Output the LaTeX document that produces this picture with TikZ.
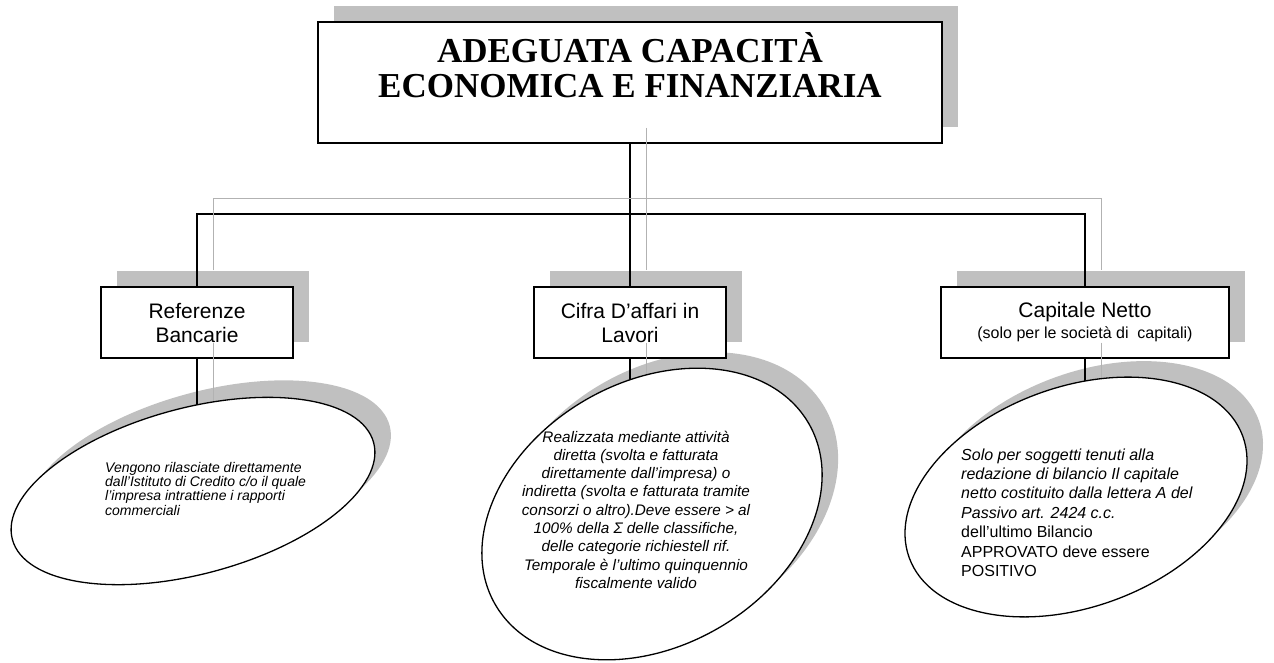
\documentclass[tikz,border=0pt]{standalone}
\usepackage{fontspec}
\usetikzlibrary{shapes.geometric}
\newfontfamily\arialf{Liberation Sans}
\newfontfamily\tnrf{Liberation Serif}
\definecolor{shadowgray}{RGB}{192,192,192}
\definecolor{glinec}{RGB}{178,178,178}
\pgfdeclarelayer{shadowl}
\pgfdeclarelayer{conn}
\pgfdeclarelayer{gline}
\pgfdeclarelayer{fg}
\pgfsetlayers{shadowl,conn,main,gline,fg}
\begin{document}
\begin{tikzpicture}[x=1pt,y=-1pt,
  box/.style={draw=black, fill=white, line width=1.2pt, inner sep=0pt, align=center,
    font=\arialf\fontsize{21}{24}\selectfont},
  boxshadow/.style={fill=shadowgray, inner sep=0pt},
  ell/.style={ellipse, draw=black, fill=white, line width=1.3pt, inner sep=0pt},
  ellshadow/.style={ellipse, fill=shadowgray, inner sep=0pt},
  connline/.style={line width=1.3pt, black},
  gl/.style={line width=1pt, glinec},
  etext/.style={inner sep=0pt},
  titletext/.style={anchor=base, inner sep=0pt, font=\tnrf\bfseries\fontsize{35}{37}\selectfont}
]
\useasboundingbox (0,0) rectangle (1274,662);

% boxes
\node[box, line width=1.6pt, minimum width=624pt, minimum height=121pt] (top) at (630,82.5) {};
\node[box, minimum width=192pt, minimum height=71pt] (lb) at (197,322.5) {Referenze\\Bancarie};
\node[box, minimum width=192pt, minimum height=71pt] (mb) at (630,322.5) {Cifra D’affari in\\Lavori};
\node[box, minimum width=288pt, minimum height=71pt] (rb) at (1085,322.5)
  {Capitale Netto\\[-3pt]{\fontsize{16}{19}\selectfont (solo per le società di~ capitali)}};

\node[titletext] (t1) at (630,62) {ADEGUATA CAPACITÀ};
\node[titletext] (t2) at (630,97) {ECONOMICA E FINANZIARIA};

% shadows
\begin{pgfonlayer}{shadowl}
\node[boxshadow, minimum width=624pt, minimum height=121pt] (tops) at (646,66.5) {};
\node[boxshadow, minimum width=192pt, minimum height=71pt] (lbs) at (213,306.5) {};
\node[boxshadow, minimum width=192pt, minimum height=71pt] (mbs) at (646,306.5) {};
\node[boxshadow, minimum width=288pt, minimum height=71pt] (rbs) at (1101,306.5) {};
\node[ellshadow, minimum width=374pt, minimum height=166pt, rotate=15] (les) at (209,474) {};
\node[ellshadow, minimum width=362pt, minimum height=264pt, rotate=30] (mes) at (668,498) {};
\node[ellshadow, minimum width=355pt, minimum height=220pt, rotate=20] (res) at (1092,481) {};
\end{pgfonlayer}

% ellipses
\begin{pgfonlayer}{fg}
\node[ell, minimum width=374pt, minimum height=166pt, rotate=15] (le) at (193,491) {};
\node[ell, minimum width=362pt, minimum height=264pt, rotate=30] (me) at (652,514) {};
\node[ell, minimum width=355pt, minimum height=220pt, rotate=20] (re) at (1076,497) {};

\node[etext, anchor=base west, font=\arialf\itshape\fontsize{14}{14.2}\selectfont] (lt) at (105,472)
 {\begin{tabular}[t]{@{}l@{}}Vengono rilasciate direttamente\\dall’Istituto di Credito c/o il quale\\l’impresa intrattiene i rapporti\\commerciali\end{tabular}};

\node[etext, anchor=base, font=\arialf\itshape\fontsize{15.3}{18.3}\selectfont] (mt) at (636,442)
 {\begin{tabular}[t]{@{}c@{}}Realizzata mediante attività\\diretta (svolta e fatturata\\direttamente dall’impresa) o\\indiretta (svolta e fatturata tramite\\consorzi o altro).Deve essere > al\\100\% della Σ delle classifiche,\\delle categorie richiestell rif.\\Temporale è l’ultimo quinquennio\\fiscalmente valido\end{tabular}};

\node[etext, anchor=base west, font=\arialf\fontsize{16}{19.4}\selectfont] (rt) at (961,460)
 {\begin{tabular}[t]{@{}l@{}}\itshape Solo per soggetti tenuti alla\\\itshape redazione di bilancio Il capitale\\\itshape netto costituito dalla lettera A del\\\itshape Passivo art. 2424 c.c.\\dell’ultimo Bilancio\\APPROVATO deve essere\\POSITIVO\end{tabular}};
\end{pgfonlayer}

\coordinate (hb) at (630,214);
\coordinate (hl) at (lb.north |- hb);
\coordinate (hr) at (rb.north |- hb);
\coordinate (lbe) at (lb.south |- le.center);
\coordinate (mbe) at (mb.south |- me.center);
\coordinate (rbe) at (rb.south |- re.center);

% black connectors
\begin{pgfonlayer}{conn}
\draw[connline] (top.south) -- (mb.north);
\draw[connline] (lb.north) -- (hl) -- (hr) -- (rb.north);
\draw[connline] (lb.south) -- (lbe);
\draw[connline] (mb.south) -- (mbe);
\draw[connline] (rb.south) -- (rbe);
\end{pgfonlayer}

% gray connector shadows
\begin{pgfonlayer}{gline}
\draw[gl] ([shift={(16,-16)}]top.south) -- ([shift={(16,-16)}]mb.north);
\draw[gl] ([shift={(16,-16)}]lb.north) -- ([shift={(16,-16)}]hl) -- ([shift={(16,-16)}]hr) -- ([shift={(16,-16)}]rb.north);
\draw[gl] ([shift={(16,-16)}]lb.south) -- ([shift={(16,-16)}]lbe);
\draw[gl] ([shift={(16,-16)}]mb.south) -- ([shift={(16,-16)}]mbe);
\draw[gl] ([shift={(16,-16)}]rb.south) -- ([shift={(16,-16)}]rbe);
\end{pgfonlayer}
\end{tikzpicture}
\end{document}
